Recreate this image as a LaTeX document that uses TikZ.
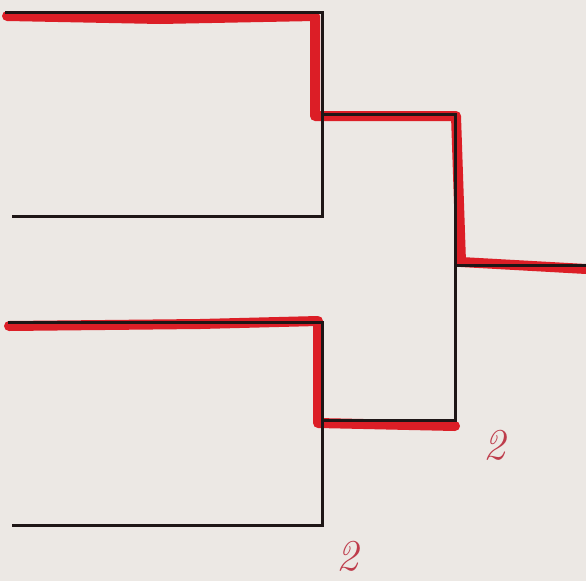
\documentclass[tikz,border=0pt]{standalone}
\usepackage{tikz}
\definecolor{paper}{RGB}{236,232,228}
\definecolor{inkred}{RGB}{220,30,38}
\definecolor{penred}{RGB}{190,60,75}
\definecolor{ink}{RGB}{30,22,22}
\begin{document}
\begin{tikzpicture}[x=1pt,y=-1pt,
  blackline/.style={draw=ink,line width=3pt,line join=miter},
  redline/.style={draw=inkred,line width=10pt,line cap=round,line join=round},
  score/.style={text=penred,inner sep=0pt,font=\fontsize{44}{44}\selectfont\itshape}]
\fill[paper] (0,0) rectangle (586,581);
\useasboundingbox (0,0) rectangle (586,581);
% coordinates
\coordinate (a1) at (5,12);
\coordinate (a2) at (322,12);
\coordinate (a3) at (322,216);
\coordinate (a4) at (12,216);
\coordinate (b1) at (8,322);
\coordinate (b2) at (322,322);
\coordinate (b3) at (322,525);
\coordinate (b4) at (12,525);
\coordinate (m1) at (322,114);
\coordinate (m2) at (455,114);
\coordinate (m3) at (455,420);
\coordinate (m4) at (322,420);
\coordinate (f1) at (455,265);
\coordinate (f2) at (586,265);
% red highlights
\draw[redline] (7,16) -- (160,19) -- (315,16) -- (315,116) -- (456,116) -- (461,262) -- (586,269);
\draw[redline] (9,326) -- (200,324) -- (318,321) -- (318,423) -- (455,426);
% black bracket
\draw[blackline] (a1) -- (a2) -- (a3) -- (a4);
\draw[blackline] (b1) -- (b2) -- (b3) -- (b4);
\draw[blackline] (m1) -- (m2) -- (m3) -- (m4);
\draw[blackline] (f1) -- (f2);
% labels
\node[score] (s1) at (494,445) {2};
\node[score] (s2) at (347,556) {2};
\end{tikzpicture}
\end{document}
